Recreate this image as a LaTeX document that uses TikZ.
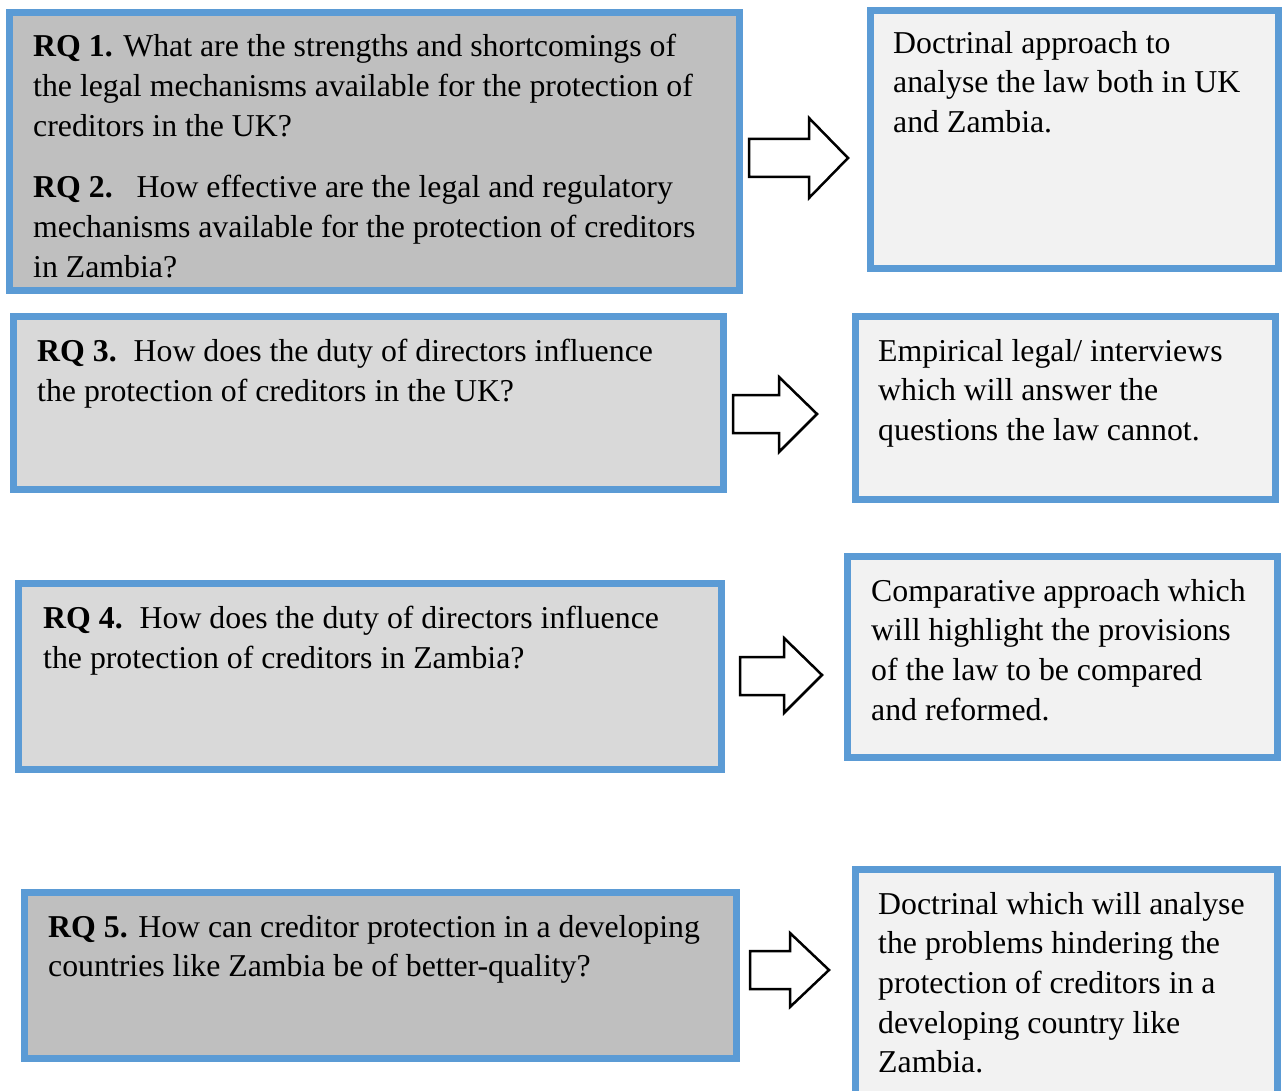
\documentclass[tikz,border=0pt]{standalone}
\usepackage{fontspec}
\setmainfont{Liberation Serif}
\usetikzlibrary{positioning}
\definecolor{rqblue}{HTML}{5B9BD5}
\definecolor{rqdark}{HTML}{BFBFBF}
\definecolor{rqlight}{HTML}{D9D9D9}
\definecolor{mfill}{HTML}{F2F2F2}

\begin{document}
\begin{tikzpicture}[x=1pt,y=-1pt,font=\fontsize{31.8}{39.6}\selectfont,
  qbox/.style={draw=rqblue,line width=7pt,anchor=north west,outer sep=0pt,inner sep=0pt},
  txt/.style={anchor=north west,align=left,inner sep=0pt},
  barrow/.style={draw=black,line width=2.5pt,fill=white,line join=miter}]
\clip (0,0) rectangle (1282,1091);
\node[qbox,fill=rqdark,minimum width=730,minimum height=278] (rq1) at (9.5,12.5) {};
\node[qbox,fill=mfill,minimum width=408,minimum height=258] (m1) at (870.5,10.5) {};
\node[qbox,fill=rqlight,minimum width=710,minimum height=173] (rq3) at (13.5,316.5) {};
\node[qbox,fill=mfill,minimum width=420,minimum height=183] (m2) at (855.5,316.5) {};
\node[qbox,fill=rqlight,minimum width=703,minimum height=186] (rq4) at (18.5,583.5) {};
\node[qbox,fill=mfill,minimum width=430,minimum height=201] (m3) at (847.5,556.5) {};
\node[qbox,fill=rqdark,minimum width=712,minimum height=166] (rq5) at (24.5,892.5) {};
\node[qbox,fill=mfill,minimum width=422,minimum height=250] (m4) at (855.5,869.5) {};
\node[txt,font=\fontsize{31.8}{40}\selectfont] (rq1t) at (33,34) {\textbf{RQ 1.} What are the strengths and shortcomings of\\the legal mechanisms available for the protection of\\creditors in the UK?\\[21pt]\textbf{RQ 2.}\hspace{24pt}How effective are the legal and regulatory\\mechanisms available for the protection of creditors\\in Zambia?};
\node[txt] (m1t) at (893,31) {Doctrinal approach to\\analyse the law both in UK\\and Zambia.};
\node[txt] (rq3t) at (37,339) {\textbf{RQ 3.}\hspace{17pt}How does the duty of directors influence\\the protection of creditors in the UK?};
\node[txt] (m2t) at (878,339) {Empirical legal/ interviews\\which will answer the\\questions the law cannot.};
\node[txt] (rq4t) at (43,606) {\textbf{RQ 4.}\hspace{17pt}How does the duty of directors influence\\the protection of creditors in Zambia?};
\node[txt] (m3t) at (871,579) {Comparative approach which\\will highlight the provisions\\of the law to be compared\\and reformed.};
\node[txt] (rq5t) at (48,915) {\textbf{RQ 5.} How can creditor protection in a developing\\countries like Zambia be of better-quality?};
\node[txt] (m4t) at (878,892) {Doctrinal which will analyse\\the problems hindering the\\protection of creditors in a\\developing country like\\Zambia.};
\draw[barrow] (749,139) -- (809,139) -- (809,118) -- (848,158) -- (809,198) -- (809,177) -- (749,177) -- cycle;
\draw[barrow] (733,395) -- (779,395) -- (779,377) -- (817,414) -- (779,452) -- (779,433) -- (733,433) -- cycle;
\draw[barrow] (740,657) -- (784,657) -- (784,638) -- (822,675) -- (784,713) -- (784,695) -- (740,695) -- cycle;
\draw[barrow] (750,951) -- (790,951) -- (790,933) -- (829,970) -- (790,1007) -- (790,989) -- (750,989) -- cycle;
\end{tikzpicture}
\end{document}
